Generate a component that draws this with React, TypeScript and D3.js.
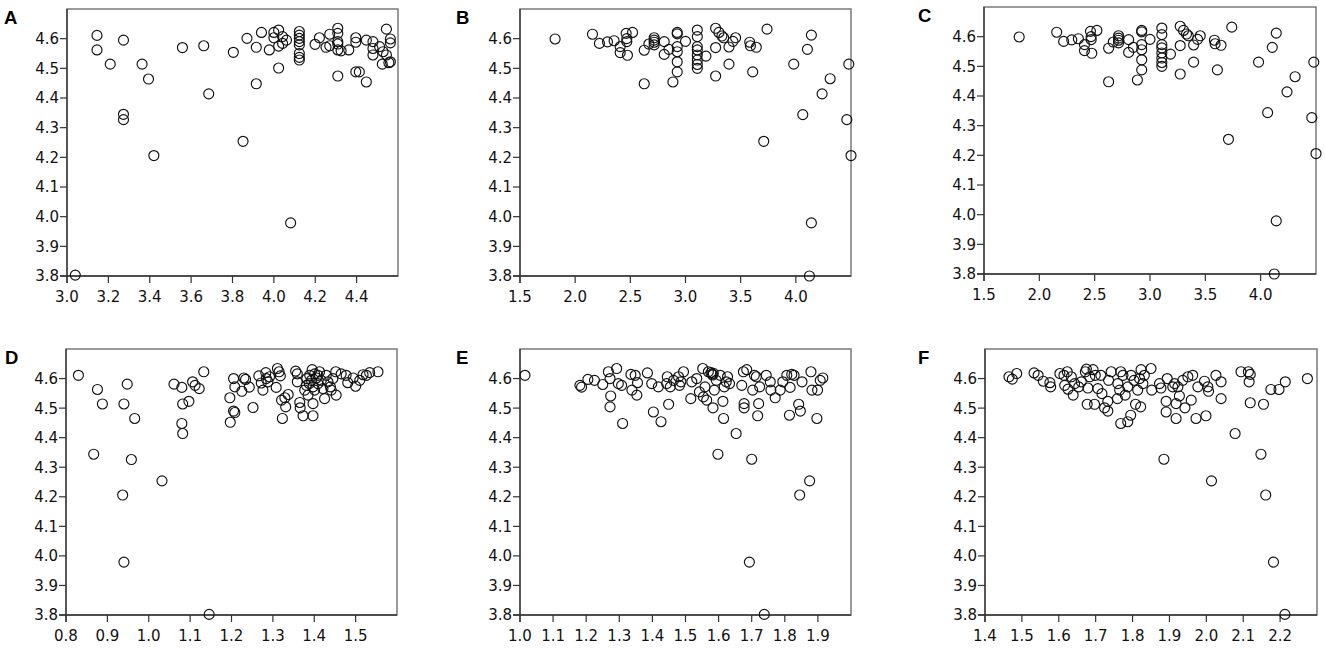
import React from 'react';
import * as d3 from 'd3';

type Pt = [number, number];

// y is the same variable in every panel, x changes
const yTicks = [3.8, 3.9, 4.0, 4.1, 4.2, 4.3, 4.4, 4.5, 4.6];

const ticksA = [3.0, 3.2, 3.4, 3.6, 3.8, 4.0, 4.2, 4.4];
const ticksB = [1.5, 2.0, 2.5, 3.0, 3.5, 4.0];
const ticksD = [0.8, 0.9, 1.0, 1.1, 1.2, 1.3, 1.4, 1.5];
const ticksE = [1.0, 1.1, 1.2, 1.3, 1.4, 1.5, 1.6, 1.7, 1.8, 1.9];
const ticksF = [1.4, 1.5, 1.6, 1.7, 1.8, 1.9, 2.0, 2.1, 2.2];

const pointsA: Pt[] = [
  [3.04, 3.803], [3.145, 4.611], [3.145, 4.562], [3.209, 4.514], [3.273, 4.595],
  [3.273, 4.345], [3.273, 4.327], [3.363, 4.514], [3.394, 4.464], [3.42, 4.206],
  [3.558, 4.57], [3.661, 4.576], [3.685, 4.414], [3.804, 4.554], [3.851, 4.254],
  [3.87, 4.601], [3.915, 4.571], [3.915, 4.448], [3.94, 4.621], [3.978, 4.562],
  [4.0, 4.621], [4.0, 4.603], [4.023, 4.629], [4.023, 4.575], [4.023, 4.501],
  [4.042, 4.607], [4.042, 4.584], [4.061, 4.595], [4.081, 3.979],
  [4.123, 4.624], [4.123, 4.612], [4.123, 4.601], [4.123, 4.59], [4.123, 4.579],
  [4.123, 4.55], [4.123, 4.537], [4.123, 4.528],
  [4.199, 4.581], [4.22, 4.603], [4.252, 4.571], [4.27, 4.615], [4.27, 4.576],
  [4.309, 4.635], [4.309, 4.618], [4.309, 4.59], [4.309, 4.582], [4.309, 4.562],
  [4.309, 4.474], [4.325, 4.559], [4.362, 4.562], [4.396, 4.603], [4.396, 4.588],
  [4.396, 4.488], [4.413, 4.488], [4.447, 4.595], [4.447, 4.454], [4.479, 4.59],
  [4.479, 4.567], [4.479, 4.545], [4.511, 4.573], [4.524, 4.514], [4.528, 4.556],
  [4.544, 4.632], [4.544, 4.545], [4.563, 4.599], [4.563, 4.586], [4.563, 4.522],
  [4.556, 4.519],
];

const pointsB: Pt[] = [
  [1.818, 4.599], [2.157, 4.615], [2.22, 4.584], [2.293, 4.589], [2.353, 4.593],
  [2.408, 4.573], [2.408, 4.553], [2.462, 4.618], [2.468, 4.6], [2.468, 4.59],
  [2.474, 4.544], [2.52, 4.621], [2.626, 4.561], [2.626, 4.448], [2.668, 4.582],
  [2.716, 4.603], [2.716, 4.595], [2.716, 4.588], [2.716, 4.579], [2.807, 4.59],
  [2.807, 4.547], [2.85, 4.564], [2.886, 4.454], [2.925, 4.621], [2.925, 4.616],
  [2.925, 4.573], [2.925, 4.556], [2.925, 4.522], [2.925, 4.488], [3.0, 4.591],
  [3.107, 4.629], [3.107, 4.607], [3.107, 4.573], [3.107, 4.562], [3.107, 4.545],
  [3.107, 4.528], [3.107, 4.513], [3.107, 4.5], [3.185, 4.541], [3.273, 4.635],
  [3.273, 4.57], [3.273, 4.474], [3.303, 4.621], [3.33, 4.609], [3.346, 4.603],
  [3.394, 4.572], [3.394, 4.514], [3.43, 4.591], [3.454, 4.603], [3.582, 4.588],
  [3.588, 4.576], [3.609, 4.488], [3.642, 4.571], [3.709, 4.254], [3.739, 4.632],
  [3.981, 4.514], [4.063, 4.344], [4.105, 4.564], [4.141, 4.612], [4.141, 3.979],
  [4.123, 3.8], [4.238, 4.414], [4.311, 4.465], [4.462, 4.327], [4.48, 4.514],
  [4.5, 4.206],
];

// panel C shows the same scatter as panel B
const pointsC: Pt[] = pointsB;

const pointsD: Pt[] = [
  [0.83, 4.611], [0.876, 4.563], [0.888, 4.514], [0.867, 4.344], [0.948, 4.581],
  [0.94, 4.514], [0.966, 4.465], [0.958, 4.326], [0.937, 4.206], [0.94, 3.979],
  [1.032, 4.254], [1.146, 3.802], [1.061, 4.581], [1.08, 4.57], [1.082, 4.514],
  [1.08, 4.448], [1.082, 4.414], [1.097, 4.523], [1.106, 4.589], [1.112, 4.577],
  [1.122, 4.566], [1.133, 4.623], [1.196, 4.535], [1.197, 4.452], [1.205, 4.6],
  [1.205, 4.49], [1.208, 4.485], [1.208, 4.572], [1.225, 4.557], [1.23, 4.602],
  [1.234, 4.597], [1.243, 4.571], [1.252, 4.502], [1.266, 4.609], [1.272, 4.585],
  [1.276, 4.561], [1.283, 4.62], [1.284, 4.6], [1.288, 4.589], [1.292, 4.606],
  [1.308, 4.57], [1.311, 4.634], [1.315, 4.623], [1.318, 4.609], [1.321, 4.527],
  [1.323, 4.465], [1.329, 4.535], [1.331, 4.504], [1.337, 4.546], [1.355, 4.625],
  [1.359, 4.616], [1.359, 4.589], [1.365, 4.519], [1.366, 4.501], [1.373, 4.474],
  [1.377, 4.561], [1.381, 4.577], [1.385, 4.544], [1.389, 4.611], [1.393, 4.594],
  [1.395, 4.63], [1.397, 4.572], [1.397, 4.515], [1.397, 4.474], [1.401, 4.616],
  [1.405, 4.602], [1.409, 4.583], [1.413, 4.623], [1.417, 4.594], [1.421, 4.566],
  [1.425, 4.532], [1.429, 4.611], [1.433, 4.589], [1.439, 4.572], [1.441, 4.561],
  [1.445, 4.6], [1.453, 4.544], [1.452, 4.623], [1.465, 4.616], [1.477, 4.611],
  [1.481, 4.586], [1.494, 4.602], [1.5, 4.574], [1.51, 4.594], [1.518, 4.613],
  [1.526, 4.611], [1.534, 4.62], [1.554, 4.623], [1.382, 4.6], [1.388, 4.583],
  [1.401, 4.561], [1.409, 4.611],
];

const pointsE: Pt[] = [
  [1.015, 4.611], [1.181, 4.577], [1.186, 4.571], [1.205, 4.597], [1.225, 4.594],
  [1.25, 4.58], [1.267, 4.623], [1.272, 4.6], [1.274, 4.541], [1.272, 4.504],
  [1.292, 4.634], [1.297, 4.583], [1.31, 4.448], [1.307, 4.577], [1.335, 4.614],
  [1.338, 4.561], [1.348, 4.611], [1.353, 4.544], [1.355, 4.586], [1.385, 4.619],
  [1.398, 4.583], [1.403, 4.487], [1.418, 4.572], [1.426, 4.454], [1.449, 4.513],
  [1.445, 4.606], [1.443, 4.583], [1.454, 4.572], [1.464, 4.594], [1.479, 4.606],
  [1.482, 4.577], [1.486, 4.589], [1.494, 4.623], [1.516, 4.532], [1.519, 4.589],
  [1.534, 4.6], [1.542, 4.555], [1.552, 4.634], [1.554, 4.538], [1.559, 4.572],
  [1.564, 4.527], [1.569, 4.623], [1.577, 4.62], [1.58, 4.615], [1.582, 4.612],
  [1.584, 4.618], [1.583, 4.501], [1.587, 4.561], [1.593, 4.594], [1.598, 4.344],
  [1.605, 4.611], [1.613, 4.523], [1.615, 4.465], [1.617, 4.572], [1.623, 4.589],
  [1.627, 4.606], [1.633, 4.583], [1.653, 4.414], [1.67, 4.577], [1.675, 4.623],
  [1.677, 4.515], [1.677, 4.501], [1.685, 4.63], [1.693, 3.979], [1.7, 4.327],
  [1.703, 4.561], [1.708, 4.611], [1.714, 4.606], [1.718, 4.474], [1.721, 4.515],
  [1.724, 4.572], [1.738, 3.802], [1.744, 4.611], [1.756, 4.589], [1.758, 4.561],
  [1.771, 4.535], [1.786, 4.561], [1.794, 4.589], [1.806, 4.611], [1.814, 4.476],
  [1.816, 4.57], [1.821, 4.614], [1.828, 4.611], [1.842, 4.513], [1.845, 4.206],
  [1.847, 4.49], [1.852, 4.589], [1.875, 4.254], [1.879, 4.623], [1.882, 4.561],
  [1.897, 4.465], [1.899, 4.561], [1.907, 4.594], [1.915, 4.602],
];

const pointsF: Pt[] = [
  [1.465, 4.606], [1.474, 4.598], [1.486, 4.617], [1.533, 4.619], [1.544, 4.611],
  [1.558, 4.591], [1.576, 4.586], [1.578, 4.572], [1.603, 4.617], [1.614, 4.611],
  [1.616, 4.577], [1.623, 4.623], [1.625, 4.564], [1.634, 4.606], [1.639, 4.544],
  [1.643, 4.583], [1.654, 4.572], [1.661, 4.589], [1.672, 4.623], [1.675, 4.632],
  [1.677, 4.513], [1.679, 4.568], [1.684, 4.606], [1.693, 4.63], [1.697, 4.513],
  [1.699, 4.611], [1.706, 4.566], [1.714, 4.611], [1.717, 4.549], [1.724, 4.501],
  [1.733, 4.49], [1.733, 4.523], [1.735, 4.594], [1.742, 4.623], [1.759, 4.532],
  [1.76, 4.583], [1.765, 4.561], [1.768, 4.623], [1.768, 4.448], [1.774, 4.611],
  [1.78, 4.544], [1.787, 4.454], [1.787, 4.572], [1.795, 4.476], [1.796, 4.611],
  [1.804, 4.594], [1.808, 4.513], [1.814, 4.561], [1.822, 4.504], [1.819, 4.6],
  [1.823, 4.63], [1.828, 4.583], [1.832, 4.611], [1.85, 4.634], [1.852, 4.561],
  [1.873, 4.583], [1.877, 4.568], [1.885, 4.327], [1.891, 4.523], [1.891, 4.487],
  [1.894, 4.6], [1.909, 4.572], [1.914, 4.583], [1.918, 4.515], [1.918, 4.465],
  [1.923, 4.572], [1.927, 4.541], [1.936, 4.594], [1.942, 4.501], [1.95, 4.606],
  [1.959, 4.527], [1.963, 4.611], [1.972, 4.465], [1.977, 4.572], [1.995, 4.591],
  [1.999, 4.474], [2.004, 4.572], [2.006, 4.557], [2.014, 4.254], [2.026, 4.611],
  [2.04, 4.589], [2.04, 4.532], [2.078, 4.414], [2.094, 4.623], [2.114, 4.623],
  [2.116, 4.589], [2.119, 4.614], [2.119, 4.518], [2.148, 4.344], [2.155, 4.513],
  [2.161, 4.206], [2.175, 4.563], [2.182, 3.979], [2.197, 4.563], [2.213, 3.802],
  [2.214, 4.589], [2.274, 4.6],
];

type PanelSpec = {
  label: string;
  points: Pt[];
  xDomain: [number, number];
  xTicks: number[];
  left: number;
  right: number;
  top: number;
  bottom: number;
  labelX: number;
};

const panels: PanelSpec[] = [
  { label: 'A', points: pointsA, xDomain: [3.0, 4.6], xTicks: ticksA, left: 67, right: 398, top: 9, bottom: 276, labelX: 4 },
  { label: 'B', points: pointsB, xDomain: [1.5, 4.5], xTicks: ticksB, left: 520, right: 851, top: 9, bottom: 276, labelX: 456 },
  { label: 'C', points: pointsC, xDomain: [1.5, 4.5], xTicks: ticksB, left: 984, right: 1316, top: 7, bottom: 274, labelX: 918 },
  { label: 'D', points: pointsD, xDomain: [0.8, 1.6], xTicks: ticksD, left: 66, right: 397, top: 349, bottom: 615, labelX: 5 },
  { label: 'E', points: pointsE, xDomain: [1.0, 2.0], xTicks: ticksE, left: 520, right: 851, top: 349, bottom: 615, labelX: 456 },
  { label: 'F', points: pointsF, xDomain: [1.4, 2.3], xTicks: ticksF, left: 985, right: 1317, top: 349, bottom: 615, labelX: 918 },
];

const tickFont = '"DejaVu Sans", Verdana, sans-serif';

function Panel({ spec }: { spec: PanelSpec }) {
  const x = d3.scaleLinear().domain(spec.xDomain).range([spec.left, spec.right]);
  const y = d3.scaleLinear().domain([3.8, 4.7]).range([spec.bottom, spec.top]);
  const fmt = d3.format('.1f');

  return (
    <g>
      <text
        x={spec.labelX}
        y={spec.top + 15}
        fontFamily='"Liberation Sans", Arial, sans-serif'
        fontWeight="bold"
        fontSize={18.5}
        fill="#000"
      >
        {spec.label}
      </text>

      {/* frame */}
      <rect
        x={spec.left}
        y={spec.top}
        width={spec.right - spec.left}
        height={spec.bottom - spec.top}
        fill="none"
        stroke="#7a7a7a"
        strokeWidth={1.5}
      />

      {/* y axis */}
      <line x1={spec.left} x2={spec.left} y1={spec.top} y2={spec.bottom + 7} stroke="#333" strokeWidth={1.3} />
      {yTicks.map((t) => (
        <g key={'y' + t}>
          <line x1={spec.left - 7} x2={spec.left} y1={y(t)} y2={y(t)} stroke="#333" strokeWidth={1.2} />
          <text
            x={spec.left - 8}
            y={y(t)}
            dy="0.36em"
            textAnchor="end"
            fontFamily={tickFont}
            fontSize={15}
            fill="#111"
          >
            {fmt(t)}
          </text>
        </g>
      ))}

      {/* x axis */}
      <line x1={spec.left - 7} x2={spec.right} y1={spec.bottom} y2={spec.bottom} stroke="#333" strokeWidth={1.3} />
      {spec.xTicks.map((t) => (
        <g key={'x' + t}>
          <line x1={x(t)} x2={x(t)} y1={spec.bottom} y2={spec.bottom + 7} stroke="#333" strokeWidth={1.2} />
          <text
            x={x(t)}
            y={spec.bottom + 26}
            textAnchor="middle"
            fontFamily={tickFont}
            fontSize={15}
            fill="#111"
          >
            {fmt(t)}
          </text>
        </g>
      ))}

      {spec.points.map((p, i) => (
        <circle key={i} cx={x(p[0])} cy={y(p[1])} r={5} fill="none" stroke="#111" strokeWidth={1.15} />
      ))}
    </g>
  );
}

export default function App() {
  return (
    <svg
      width={1325}
      height={657}
      style={{ position: 'absolute', left: 0, top: 0, background: '#fff' }}
    >
      <rect width={1325} height={657} fill="#fff" />
      {panels.map((p) => (
        <Panel key={p.label} spec={p} />
      ))}
    </svg>
  );
}
